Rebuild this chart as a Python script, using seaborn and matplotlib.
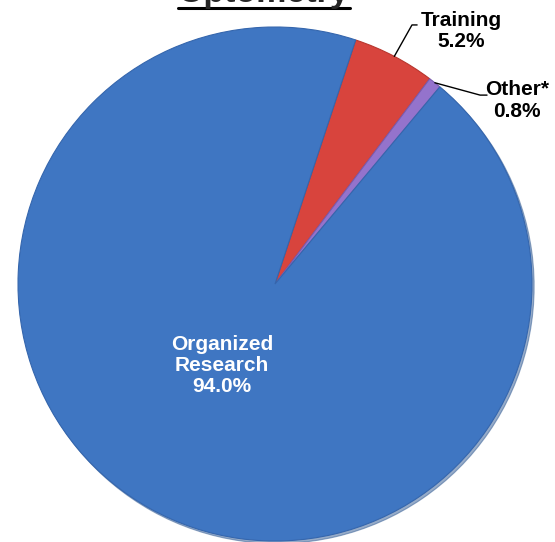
import matplotlib
matplotlib.use("Agg")
import matplotlib.pyplot as plt
import numpy as np
import seaborn as sns
from matplotlib.lines import Line2D

# data
categories = ["Training", "Other*", "Organized Research"]
shares = [5.2, 0.8, 94.0]
colors = ["#d8443d", "#9473cc", "#3f76c2"]
edge_colors = ["#b8372f", "#7a5cb0", "#3566ad"]

sns.set_theme(style="white")
plt.rcParams["font.family"] = ["Liberation Sans", "DejaVu Sans"]

W, H = 555, 542
fig = plt.figure(figsize=(W / 100, H / 100), dpi=100)
cx, cy, r = 275, 284, 257
ax = fig.add_axes([(cx - r) / W, (H - cy - r) / H, 2 * r / W, 2 * r / H])

start = 71.7
wedges, _ = ax.pie(shares, colors=colors, startangle=start, counterclock=False,
                   radius=1.0, wedgeprops=dict(linewidth=0.8),
                   shadow={"ox": 0.006, "oy": -0.007, "shade": 0.25})
for w, ec in zip(wedges, edge_colors):
    w.set_edgecolor(ec)
ax.set_xlim(-1, 1)
ax.set_ylim(-1, 1)
ax.set_aspect("equal")
ax.axis("off")

label_style = dict(fontsize=15, fontweight="bold", ha="center", va="center",
                   linespacing=1.15)

# outside labels with leader lines
outside = {
    0: dict(elbow=(0.533, 1.008), end=(0.553, 1.008), text=(0.724, 0.985)),
    1: dict(elbow=(0.798, 0.735), end=(0.825, 0.735), text=(0.942, 0.714)),
}
for i, opt in outside.items():
    w = wedges[i]
    mid = np.deg2rad((w.theta1 + w.theta2) / 2)
    sx, sy = np.cos(mid), np.sin(mid)
    ax.plot([sx, opt["elbow"][0], opt["end"][0]],
            [sy, opt["elbow"][1], opt["end"][1]],
            color="black", lw=1.0, clip_on=False)
    ax.text(*opt["text"], f"{categories[i]}\n{shares[i]:.1f}%", color="black",
            **label_style)

ax.text(-0.206, -0.318, "Organized\nResearch\n" + f"{shares[2]:.1f}%",
        color="white", **label_style)

# title, partly cut off at the top as in the source
title = fig.text(0.475, 1 - 2 / H, "Optometry", fontsize=24.5, fontweight="bold",
                 ha="center", va="baseline")
fig.canvas.draw()
bb = title.get_window_extent()
uy = 1 - 7.5 / H
fig.add_artist(Line2D([bb.x0 / W, bb.x1 / W], [uy, uy], color="black", lw=2.2,
                      transform=fig.transFigure))

fig.savefig("out.png", dpi=100)
